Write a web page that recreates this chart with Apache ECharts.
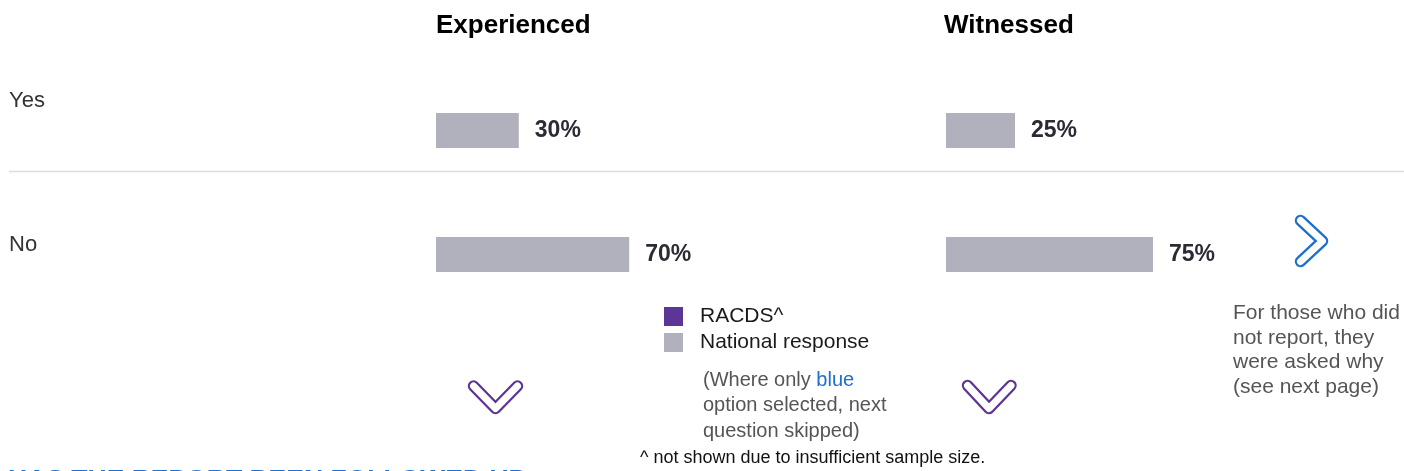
<!DOCTYPE html>
<html>
<head>
<meta charset="utf-8">
<script src="https://cdn.jsdelivr.net/npm/echarts@6/dist/echarts.min.js"></script>
<style>
html,body{margin:0;padding:0;background:#fff;}
#chart{width:1404px;height:471px;}
</style>
</head>
<body>
<div id="chart"></div>
<script>
var categories = ['Yes', 'No'];
var experienced = [30, 70];
var witnessed = [25, 75];
var racds = [];
var panelTitles = ['Experienced', 'Witnessed'];
var legendNames = ['RACDS^', 'National response'];

var FONT = '"Liberation Sans", Arial, Helvetica, sans-serif';
var GRAY = '#b1b1bd';
var PURPLE = '#5b3696';
var BLUE = '#1a6fcf';

var chart = echarts.init(document.getElementById('chart'), null, {renderer: 'canvas'});

function valueLabel() {
  return {
    show: true, position: 'right', distance: 16,
    formatter: function (p) { return p.value + '%'; },
    fontFamily: FONT, fontSize: 23, fontWeight: 'bold', color: '#2b2b36'
  };
}

function chevron(points, color) {
  return [
    {type: 'polyline', shape: {points: points}, style: {stroke: color, lineWidth: 11.5, fill: null, lineCap: 'round', lineJoin: 'round'}, z: 10},
    {type: 'polyline', shape: {points: points}, style: {stroke: '#fff', lineWidth: 7, fill: null, lineCap: 'round', lineJoin: 'round'}, z: 11}
  ];
}

var option = {
  backgroundColor: '#fff',
  animation: false,
  textStyle: {fontFamily: FONT},
  title: [
    {text: panelTitles[0], left: 436, top: 13, textStyle: {fontFamily: FONT, fontSize: 26, fontWeight: 'bold', color: '#000'}, padding: 0},
    {text: panelTitles[1], left: 944, top: 13, textStyle: {fontFamily: FONT, fontSize: 26, fontWeight: 'bold', color: '#000'}, padding: 0}
  ],
  legend: {
    data: legendNames,
    orient: 'vertical',
    left: 664, top: 306,
    itemWidth: 19, itemHeight: 19, itemGap: 5,
    icon: 'rect',
    padding: 0,
    selectedMode: false,
    textStyle: {fontFamily: FONT, fontSize: 21, color: '#1a1a1a', lineHeight: 21, padding: [0, 0, 0, 12]}
  },
  grid: [
    {left: 436, top: 68.5, width: 276, height: 248},
    {left: 946, top: 68.5, width: 276, height: 248},
    {left: 9, top: 29, width: 20, height: 288}
  ],
  xAxis: [
    {gridIndex: 0, type: 'value', min: 0, max: 100, show: false},
    {gridIndex: 1, type: 'value', min: 0, max: 100, show: false},
    {gridIndex: 2, type: 'value', min: 0, max: 100, show: false}
  ],
  yAxis: [
    {gridIndex: 0, type: 'category', data: categories, inverse: true, show: false},
    {gridIndex: 1, type: 'category', data: categories, inverse: true, show: false},
    {gridIndex: 2, type: 'category', data: categories, inverse: true,
     axisLine: {show: false}, axisTick: {show: false}, splitLine: {show: false},
     axisLabel: {inside: true, margin: 0, align: 'left', fontFamily: FONT, fontSize: 22, color: '#333'}}
  ],
  series: [
    {name: legendNames[0], type: 'bar', xAxisIndex: 0, yAxisIndex: 0, data: racds, itemStyle: {color: PURPLE}, barWidth: 35, barGap: '-100%'},
    {name: legendNames[1], type: 'bar', xAxisIndex: 0, yAxisIndex: 0, data: experienced, itemStyle: {color: GRAY}, barWidth: 35, barGap: '-100%', label: valueLabel()},
    {name: legendNames[1], type: 'bar', xAxisIndex: 1, yAxisIndex: 1, data: witnessed, itemStyle: {color: GRAY}, barWidth: 35, label: valueLabel()}
  ],
  graphic: [
    {type: 'line', shape: {x1: 9, y1: 171.5, x2: 1404, y2: 171.5}, style: {stroke: '#dcdcdc', lineWidth: 1.5}},
    {type: 'text', x: 703, y: 367.5, style: {
      text: '(Where only {b|blue}\noption selected, next\nquestion skipped)',
      fontFamily: FONT, fontSize: 20, fill: '#555', lineHeight: 25.5,
      verticalAlign: 'top', align: 'left',
      rich: {b: {fill: BLUE, fontFamily: FONT, fontSize: 20, lineHeight: 25.5}}
    }},
    {type: 'text', x: 640, y: 458, style: {text: '^ not shown due to insufficient sample size.', fontFamily: FONT, fontSize: 18, fill: '#111', verticalAlign: 'middle'}},
    {type: 'text', x: 1233, y: 301, style: {text: 'For those who did\nnot report, they\nwere asked why\n(see next page)', fontFamily: FONT, fontSize: 21, fill: '#555', lineHeight: 24.5, verticalAlign: 'top'}},
    {type: 'text', x: 8, y: 481, style: {text: 'HAS THE REPORT BEEN FOLLOWED UP', fontFamily: FONT, fontSize: 26.5, fontWeight: 'bold', fill: '#1a73d9', verticalAlign: 'middle'}}
  ].concat(
    chevron([[473.5, 386], [495.5, 408.5], [517.5, 386]], PURPLE),
    chevron([[967.5, 385.5], [989, 408.5], [1011, 385.5]], PURPLE),
    chevron([[1300.5, 220.5], [1322.5, 241], [1300.5, 261.5]], BLUE)
  )
};
chart.setOption(option);
</script>
</body>
</html>
